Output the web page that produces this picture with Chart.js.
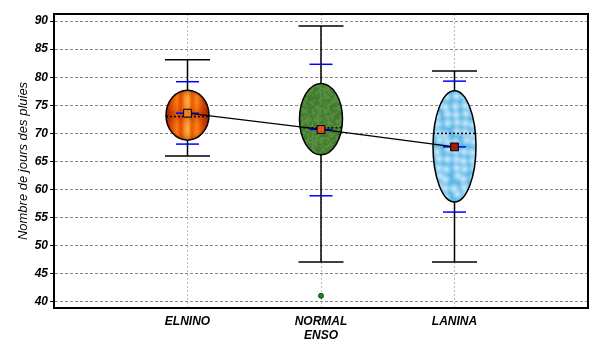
<!DOCTYPE html>
<html>
<head>
<meta charset="utf-8">
<script src="https://cdn.jsdelivr.net/npm/chart.js@4/dist/chart.umd.min.js"></script>
<style>
  html, body { margin: 0; padding: 0; background: #fff; }
  #wrap { width: 605px; height: 354px; }
</style>
</head>
<body>
<div id="wrap"><canvas id="chart"></canvas></div>
<script>
// Categories on the x axis (positions 1..3, axis runs 0..4)
const categories = ["ELNINO", ["NORMAL", "ENSO"], "LANINA"];
const catPos = [1, 2, 3];

// Box statistics
const minVals = [66.0, 47.1, 47.1];
const maxVals = [83.1, 89.1, 81.1];
const sdLow = [68.1, 58.9, 56.0];
const sdHigh = [79.2, 82.3, 79.3];
const q1Vals = [68.8, 66.2, 57.8];
const q3Vals = [77.7, 78.9, 77.6];
const medians = [73.0, 71.0, 70.0];
const means = [73.6, 70.7, 67.6];

// Outliers
const outlierX = [2];
const outlierY = [41.1];

// Y axis ticks
const yTicks = [40, 45, 50, 55, 60, 65, 70, 75, 80, 85, 90];

// whisker segments, separated by gaps
const whiskerData = [];
catPos.forEach((x, i) => {
  whiskerData.push({ x: x, y: minVals[i] });
  whiskerData.push({ x: x, y: maxVals[i] });
  whiskerData.push({ x: x, y: null });
});
const capData = [];
catPos.forEach((x, i) => {
  capData.push({ x: x, y: minVals[i] });
  capData.push({ x: x, y: maxVals[i] });
});
const sdData = [];
catPos.forEach((x, i) => {
  sdData.push({ x: x, y: sdLow[i] });
  sdData.push({ x: x, y: sdHigh[i] });
  sdData.push({ x: x, y: means[i] });
});
const meanData = catPos.map((x, i) => ({ x: x, y: means[i] }));
const outlierData = outlierX.map((x, i) => ({ x: x, y: outlierY[i] }));

// fill painters for the ellipses (textures only)
function fireFill(ctx, cx, top, rx, h) {
  const g = ctx.createLinearGradient(cx - rx, 0, cx + rx, 0);
  g.addColorStop(0, "#8a1a00");
  g.addColorStop(0.12, "#d84400");
  g.addColorStop(0.25, "#ff7a10");
  g.addColorStop(0.35, "#e04800");
  g.addColorStop(0.45, "#ff9a30");
  g.addColorStop(0.52, "#ffb040");
  g.addColorStop(0.6, "#e85800");
  g.addColorStop(0.72, "#ff8418");
  g.addColorStop(0.85, "#d84000");
  g.addColorStop(1, "#8a1a00");
  ctx.fillStyle = g;
  ctx.fillRect(cx - rx, top, rx * 2, h);
  const v = ctx.createLinearGradient(0, top, 0, top + h);
  v.addColorStop(0, "rgba(120,20,0,0.45)");
  v.addColorStop(0.2, "rgba(255,140,20,0)");
  v.addColorStop(0.45, "rgba(160,40,0,0.35)");
  v.addColorStop(0.55, "rgba(160,40,0,0.35)");
  v.addColorStop(0.8, "rgba(255,140,20,0)");
  v.addColorStop(1, "rgba(120,20,0,0.45)");
  ctx.fillStyle = v;
  ctx.fillRect(cx - rx, top, rx * 2, h);
}
function grassFill(ctx, cx, top, rx, h) {
  ctx.fillStyle = "#4e8a3a";
  ctx.fillRect(cx - rx, top, rx * 2, h);
  for (let yy = 0; yy < h; yy += 2) {
    for (let xx = 0; xx < rx * 2; xx += 2) {
      const s = Math.sin(xx * 12.9898 + yy * 78.233) * 43758.5453;
      const f = s - Math.floor(s);
      ctx.fillStyle = f > 0.5 ? "rgba(110,160,80,0.3)" : "rgba(40,90,30,0.3)";
      ctx.fillRect(cx - rx + xx, top + yy, 2, 2);
    }
  }
}
function cloudFill(ctx, cx, top, rx, h) {
  ctx.fillStyle = "#5fb8e6";
  ctx.fillRect(cx - rx, top, rx * 2, h);
  for (let yy = 4; yy < h; yy += 9) {
    for (let xx = 3; xx < rx * 2; xx += 9) {
      const s = Math.sin(xx * 7.13 + yy * 3.71) * 1000;
      const f = s - Math.floor(s);
      const px = cx - rx + xx + f * 4, py = top + yy + (1 - f) * 4;
      const rg = ctx.createRadialGradient(px, py, 0, px, py, 6);
      rg.addColorStop(0, "rgba(220,242,255,0.85)");
      rg.addColorStop(1, "rgba(220,242,255,0)");
      ctx.fillStyle = rg;
      ctx.fillRect(px - 6, py - 6, 12, 12);
    }
  }
}
const fills = [fireFill, grassFill, cloudFill];

const ellipsePlugin = {
  id: "ellipses",
  afterDatasetDraw(chart, args) {
    if (args.index !== 0) return;
    const ctx = chart.ctx;
    const xs = chart.scales.x, ys = chart.scales.y;
    const rx = 21.5;
    catPos.forEach((x, i) => {
      const cx = xs.getPixelForValue(x);
      const top = ys.getPixelForValue(q3Vals[i]);
      const bot = ys.getPixelForValue(q1Vals[i]);
      const cy = (top + bot) / 2, ry = (bot - top) / 2;
      ctx.save();
      ctx.beginPath();
      ctx.ellipse(cx, cy, rx, ry, 0, 0, Math.PI * 2);
      ctx.save();
      ctx.clip();
      fills[i](ctx, cx, top, rx, bot - top);
      ctx.restore();
      ctx.lineWidth = 1.5;
      ctx.strokeStyle = "#000";
      ctx.stroke();
      // median
      const my = ys.getPixelForValue(medians[i]);
      ctx.beginPath();
      ctx.setLineDash([2, 2]);
      ctx.lineWidth = 1.5;
      ctx.moveTo(cx - rx, my);
      ctx.lineTo(cx + rx, my);
      ctx.stroke();
      ctx.restore();
    });
  }
};

const framePlugin = {
  id: "frame",
  afterDraw(chart) {
    const a = chart.chartArea, ctx = chart.ctx;
    ctx.save();
    ctx.strokeStyle = "#000";
    ctx.lineWidth = 2;
    ctx.strokeRect(a.left, a.top, a.right - a.left, a.bottom - a.top);
    ctx.restore();
  }
};

// no automatic label padding, the layout padding sets the plot box
const noPad = (s) => { s.paddingTop = 0; s.paddingBottom = 0; s.paddingLeft = 0; s.paddingRight = 0; };

const family = "'Liberation Sans', Arial, sans-serif";
const tickFont = { family: family, size: 12, style: "italic", weight: "bold" };
const titleFont = { family: family, size: 13, style: "italic" };

new Chart(document.getElementById("chart"), {
  type: "scatter",
  data: {
    datasets: [
      { type: "line", data: whiskerData, borderColor: "#000", borderWidth: 1.5, pointRadius: 0, spanGaps: false, order: 10 },
      { data: capData, pointStyle: "line", pointRadius: 22.5, borderColor: "#000", borderWidth: 1.5, order: 9 },
      { data: sdData, pointStyle: "line", pointRadius: 11.5, borderColor: "#0000ff", borderWidth: 1.5, order: 5 },
      { type: "line", data: meanData, borderColor: "#000", borderWidth: 1.3, pointRadius: 0, tension: 0, order: 3 },
      { data: outlierData, pointStyle: "circle", pointRadius: 2.5, backgroundColor: "#1a8a1a", borderColor: "#0a4a0a", borderWidth: 1, order: 2 },
      { data: meanData, pointStyle: "rect", pointRadius: 5.5, backgroundColor: ["#f08020", "#e8501a", "#a01e08"], borderColor: "#000", borderWidth: 1, order: 1 }
    ]
  },
  options: {
    responsive: true,
    maintainAspectRatio: false,
    animation: false,
    layout: { autoPadding: false, padding: { left: 14, right: 17, top: 14, bottom: 0 } },
    plugins: { legend: { display: false }, tooltip: { enabled: false } },
    scales: {
      x: {
        type: "linear", min: 0, max: 4,
        afterFit: (s) => { s.height = 46; noPad(s); },
        afterBuildTicks: (s) => { s.ticks = catPos.map(v => ({ value: v })); },
        ticks: {
          callback: (v) => categories[catPos.indexOf(v)] || "",
          color: "#000", font: tickFont, padding: 6, maxRotation: 0
        },
        grid: { color: "#bbb", drawTicks: false, lineWidth: 1 },
        border: { display: true, color: "#000", width: 2, dash: [2, 2] }
      },
      y: {
        min: 38.93, max: 91.25,
        afterFit: (s) => { s.width = 40; noPad(s); },
        afterBuildTicks: (s) => { s.ticks = yTicks.map(v => ({ value: v })); },
        ticks: { color: "#000", font: tickFont, padding: 2 },
        grid: { color: "#888", tickLength: 4, tickColor: "#000", tickBorderDash: [], lineWidth: 1 },
        border: { display: true, color: "#000", width: 2, dash: [3, 2] },
        title: { display: true, text: "Nombre de jours des pluies", color: "#000", font: titleFont, padding: { top: 2, bottom: 2 } }
      }
    }
  },
  plugins: [ellipsePlugin, framePlugin]
});
</script>
</body>
</html>
